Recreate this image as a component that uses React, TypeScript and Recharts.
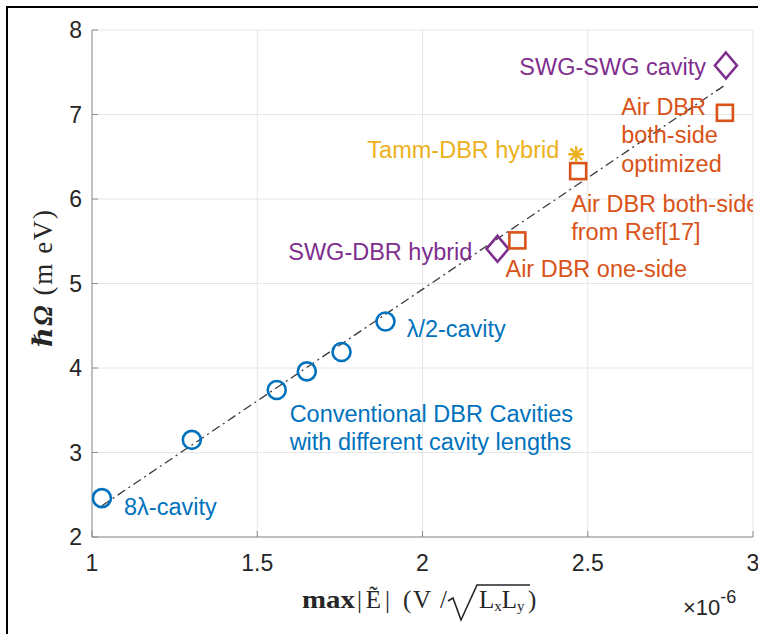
import React from 'react';
import { ComposedChart, Scatter, XAxis, YAxis, CartesianGrid } from 'recharts';

// axis ticks
const xTicks = [1, 1.5, 2, 2.5, 3];
const yTicks = [2, 3, 4, 5, 6, 7, 8];

// x in units of 1e-6, y in meV
const conventionalCavities = [
    { x: 1.03, y: 2.46 },
    { x: 1.302, y: 3.15 },
    { x: 1.559, y: 3.74 },
    { x: 1.65, y: 3.96 },
    { x: 1.755, y: 4.19 },
    { x: 1.888, y: 4.55 },
];
const swgCavities = [
    { x: 2.227, y: 5.41 },
    { x: 2.918, y: 7.58 },
];
const airDbrCavities = [
    { x: 2.287, y: 5.51 },
    { x: 2.471, y: 6.33 },
    { x: 2.915, y: 7.02 },
];
const tammHybrid = [{ x: 2.465, y: 6.53 }];
const fitLine = [
    { x: 1.03, y: 2.37 },
    { x: 2.92, y: 7.36 },
];

const BLUE = '#0072BD';
const PURPLE = '#7E2F8E';
const ORANGE = '#D95319';
const YELLOW = '#EDB120';
const AXIS = '#8c8c8c';
const TEXT = '#262626';

const annotations = [
    { x: 1.097, y: 2.26, text: '8λ-cavity', anchor: 'start', color: BLUE },
    { x: 1.952, y: 4.37, text: 'λ/2-cavity', anchor: 'start', color: BLUE },
    { x: 1.598, y: 3.36, text: 'Conventional DBR Cavities', anchor: 'start', color: BLUE },
    { x: 1.598, y: 3.03, text: 'with different cavity lengths', anchor: 'start', color: BLUE },
    { x: 2.151, y: 5.28, text: 'SWG-DBR hybrid', anchor: 'end', color: PURPLE },
    { x: 2.858, y: 7.47, text: 'SWG-SWG cavity', anchor: 'end', color: PURPLE },
    { x: 2.251, y: 5.08, text: 'Air DBR one-side', anchor: 'start', color: ORANGE },
    { x: 2.45, y: 5.85, text: 'Air DBR both-side', anchor: 'start', color: ORANGE },
    { x: 2.45, y: 5.51, text: 'from Ref[17]', anchor: 'start', color: ORANGE },
    { x: 2.601, y: 6.99, text: 'Air DBR', anchor: 'start', color: ORANGE },
    { x: 2.601, y: 6.66, text: 'both-side', anchor: 'start', color: ORANGE },
    { x: 2.601, y: 6.32, text: 'optimized', anchor: 'start', color: ORANGE },
    { x: 2.414, y: 6.49, text: 'Tamm-DBR hybrid', anchor: 'end', color: YELLOW },
];

const SANS = '"Liberation Sans", Arial, Helvetica, sans-serif';
const SERIF = '"Liberation Serif", "DejaVu Serif", serif';

const CircleMark = (p: any) => (
    <circle cx={p.cx} cy={p.cy} r={9} fill="none" stroke={BLUE} strokeWidth={2.6} />
);
const DiamondMark = (p: any) => (
    <path
        d={`M${p.cx},${p.cy - 13} L${p.cx + 11},${p.cy} L${p.cx},${p.cy + 13} L${p.cx - 11},${p.cy} Z`}
        fill="none"
        stroke={PURPLE}
        strokeWidth={2.6}
    />
);
const SquareMark = (p: any) => (
    <rect x={p.cx - 8} y={p.cy - 8} width={16} height={16} fill="none" stroke={ORANGE} strokeWidth={2.6} />
);
const StarMark = (p: any) => {
    const r = 8;
    const d = r * 0.72;
    return (
        <g stroke={YELLOW} strokeWidth={2.4}>
            <line x1={p.cx - r} y1={p.cy} x2={p.cx + r} y2={p.cy} />
            <line x1={p.cx} y1={p.cy - r} x2={p.cx} y2={p.cy + r} />
            <line x1={p.cx - d} y1={p.cy - d} x2={p.cx + d} y2={p.cy + d} />
            <line x1={p.cx - d} y1={p.cy + d} x2={p.cx + d} y2={p.cy - d} />
        </g>
    );
};
const AnnotationMark = (p: any) => (
    <text x={p.cx} y={p.cy} textAnchor={p.payload.anchor} fill={p.payload.color} fontSize={23.5} fontFamily={SANS}>
        {p.payload.text}
    </text>
);
const NoMark = () => <g />;

const XTick = (p: any) => (
    <g>
        <line x1={p.x} y1={p.y} x2={p.x} y2={p.y - 6} stroke={AXIS} />
        <text x={p.x} y={p.y + 34} textAnchor="middle" fontSize={23} fontFamily={SANS} fill={TEXT}>
            {p.payload.value}
        </text>
    </g>
);
const YTick = (p: any) => (
    <g>
        <line x1={p.x} y1={p.y} x2={p.x + 6} y2={p.y} stroke={AXIS} />
        <text x={p.x - 10} y={p.y + 8} textAnchor="end" fontSize={23} fontFamily={SANS} fill={TEXT}>
            {p.payload.value}
        </text>
    </g>
);

const XLabel = (p: any) => {
    const { x, y } = p.viewBox;
    const base = y + 71;
    const s = { fontSize: 25, fontFamily: SERIF, fill: TEXT };
    // radical sign drawn as a path, ending in the overbar
    const r = `M${x + 356},${y + 64} L${x + 361},${y + 61} L${x + 369},${y + 83} L${x + 385},${y + 48} L${x + 438},${y + 48}`;
    return (
        <g>
            <text x={x + 210} y={base} {...s} fontWeight="bold" textLength={53} lengthAdjust="spacingAndGlyphs">max</text>
            <text x={x + 265} y={base} {...s} textLength={33}>|Ẽ|</text>
            <text x={x + 311} y={base} {...s} textLength={44}>(V /</text>
            <path d={r} fill="none" stroke={TEXT} strokeWidth={1.6} strokeLinejoin="miter" />
            <text x={x + 387} y={base} {...s}>
                L<tspan fontSize={15} dy={3}>x</tspan>
                <tspan dy={-3}>L</tspan>
                <tspan fontSize={15} dy={3}>y</tspan>
            </text>
            <text x={x + 436} y={base} {...s}>)</text>
            <text x={x + 591} y={y + 78} fontSize={22} fontFamily={SANS} fill={TEXT}>
                ×10
                <tspan fontSize={18} dy={-12}>-6</tspan>
            </text>
        </g>
    );
};

const YLabel = (p: any) => {
    const { y, height } = p.viewBox;
    const cx = 52;
    const cy = y + height / 2 - 5;
    return (
        <text
            x={cx}
            y={cy}
            transform={`rotate(-90, ${cx}, ${cy})`}
            textAnchor="middle"
            fontSize={27}
            fontFamily={SERIF}
            fill={TEXT}
            textLength={137}
        >
            <tspan fontWeight="bold" fontStyle="italic">ℏΩ</tspan>
            <tspan> (m eV)</tspan>
        </text>
    );
};

export default function App() {
    return (
        <div style={{ position: 'absolute', left: 0, top: 0, width: 758, height: 634, background: '#fff' }}>
            <div
                style={{
                    position: 'absolute',
                    left: 6,
                    top: 6,
                    width: 780,
                    height: 660,
                    borderTop: '2px solid #000',
                    borderLeft: '2px solid #000',
                }}
            />
            <ComposedChart
                width={758}
                height={634}
                margin={{ top: 30, right: 5, bottom: 0, left: 32 }}
                style={{ position: 'absolute', left: 0, top: 0 }}
            >
                <CartesianGrid stroke="#e6e6e6" />
                <XAxis
                    type="number"
                    dataKey="x"
                    domain={[1, 3]}
                    ticks={xTicks}
                    allowDataOverflow
                    height={97}
                    stroke={AXIS}
                    tickLine={false}
                    tickSize={0}
                    tickMargin={0}
                    tick={<XTick />}
                    label={{ content: XLabel }}
                />
                <YAxis
                    type="number"
                    dataKey="y"
                    domain={[2, 8]}
                    ticks={yTicks}
                    allowDataOverflow
                    width={60}
                    stroke={AXIS}
                    tickLine={false}
                    tickSize={0}
                    tickMargin={0}
                    tick={<YTick />}
                    label={{ content: YLabel }}
                />
                <XAxis
                    xAxisId="top"
                    orientation="top"
                    type="number"
                    domain={[1, 3]}
                    ticks={xTicks}
                    height={0}
                    mirror
                    tick={false}
                    tickSize={6}
                    stroke={AXIS}
                />
                <YAxis
                    yAxisId="right"
                    orientation="right"
                    type="number"
                    domain={[2, 8]}
                    ticks={yTicks}
                    width={0}
                    mirror
                    tick={false}
                    tickSize={6}
                    stroke={AXIS}
                />
                <Scatter
                    data={fitLine}
                    line={{ stroke: '#3a3a3a', strokeWidth: 1.3, strokeDasharray: '9 4 2 4' }}
                    shape={NoMark}
                    isAnimationActive={false}
                />
                <Scatter data={conventionalCavities} shape={CircleMark} isAnimationActive={false} />
                <Scatter data={swgCavities} shape={DiamondMark} isAnimationActive={false} />
                <Scatter data={airDbrCavities} shape={SquareMark} isAnimationActive={false} />
                <Scatter data={tammHybrid} shape={StarMark} isAnimationActive={false} />
                <Scatter data={annotations} shape={AnnotationMark} isAnimationActive={false} />
            </ComposedChart>
        </div>
    );
}
